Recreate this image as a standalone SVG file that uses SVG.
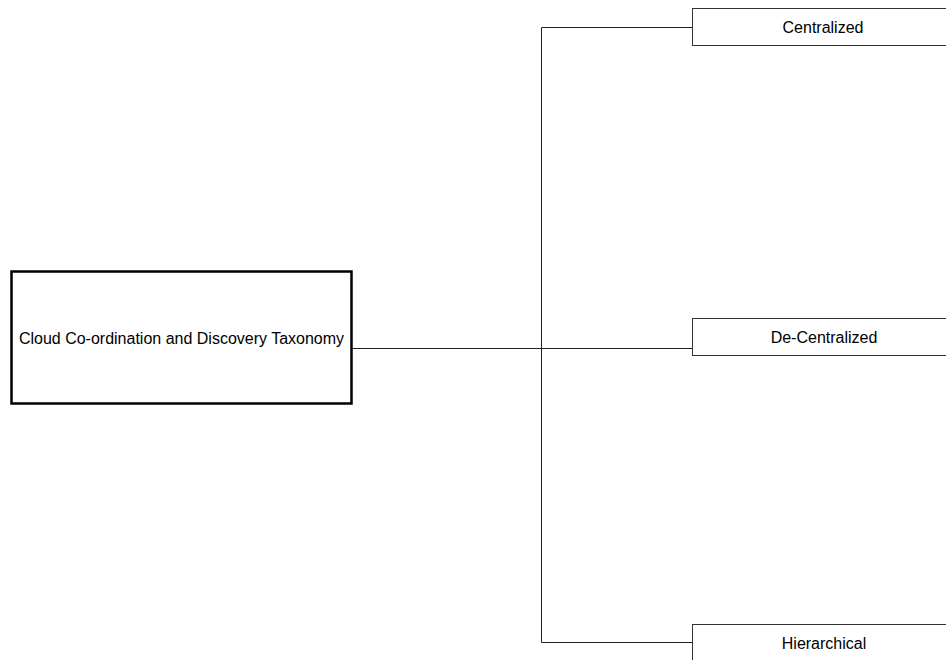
<svg xmlns="http://www.w3.org/2000/svg" width="946" height="660" viewBox="0 0 946 660">
  <style>
    .lbl { font-family: "Liberation Sans", Arial, sans-serif; font-size: 16px; fill: #000; text-anchor: middle; }
    .leaf { fill: #fff; stroke: #333; stroke-width: 1; }
    .root { fill: #fff; stroke: #000; stroke-width: 2.5; }
    .wire { fill: none; stroke: #222; stroke-width: 1; }
  </style>
  <rect width="946" height="660" fill="#fff"/>
  <g id="connectors">
    <polyline class="wire" points="692.5,27.5 541.5,27.5 541.5,642.5 692.5,642.5"/>
    <line class="wire" x1="352" y1="348.5" x2="692.5" y2="348.5"/>
  </g>
  <g id="root">
    <rect class="root" x="11.5" y="271.5" width="340" height="132"/>
    <text class="lbl" x="181.5" y="344">Cloud Co-ordination and Discovery Taxonomy</text>
  </g>
  <g id="centralized">
    <rect class="leaf" x="692.5" y="8.5" width="264" height="37"/>
    <text class="lbl" x="823" y="33">Centralized</text>
  </g>
  <g id="de-centralized">
    <rect class="leaf" x="692.5" y="318.5" width="264" height="37"/>
    <text class="lbl" x="824" y="343">De-Centralized</text>
  </g>
  <g id="hierarchical">
    <rect class="leaf" x="692.5" y="624.5" width="264" height="37"/>
    <text class="lbl" x="824" y="649">Hierarchical</text>
  </g>
</svg>
